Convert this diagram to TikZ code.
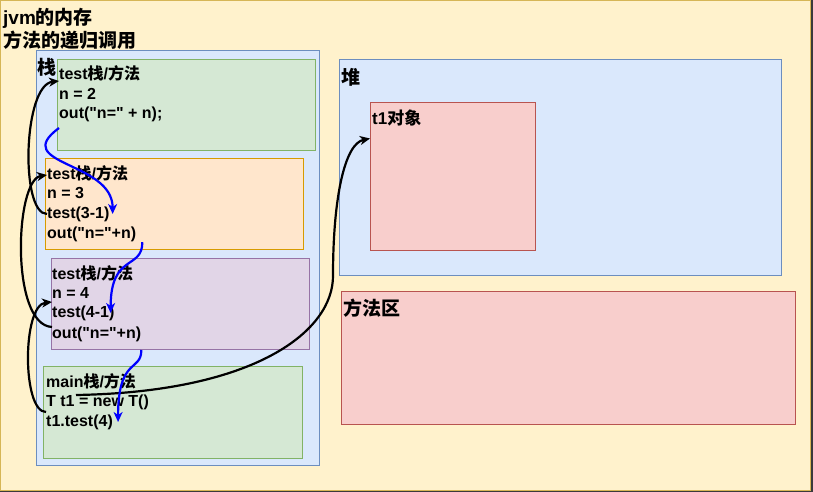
\documentclass[tikz,border=0pt]{standalone}
\usepackage{fontspec}
\setmainfont{Liberation Sans}[Ligatures=TeXOff]
\newfontfamily\cjkfont{Noto Sans CJK SC}
\newcommand{\zh}[1]{{\cjkfont #1}}
\usetikzlibrary{arrows.meta}
\definecolor{canvasgray}{HTML}{3A3A3A}
\definecolor{noteyellow}{HTML}{FFF2CC}
\definecolor{noteborder}{HTML}{D6B656}
\definecolor{areablue}{HTML}{DAE8FC}
\definecolor{areablueline}{HTML}{6C8EBF}
\definecolor{framegreen}{HTML}{D5E8D4}
\definecolor{framegreenline}{HTML}{82B366}
\definecolor{frameorange}{HTML}{FFE6CC}
\definecolor{frameorangeline}{HTML}{D79B00}
\definecolor{framepurple}{HTML}{E1D5E7}
\definecolor{framepurpleline}{HTML}{9673A6}
\definecolor{objred}{HTML}{F8CECC}
\definecolor{objredline}{HTML}{B85450}
\tikzstyle{area} = [draw, line width=1pt, anchor=north west, inner sep=0pt]
\tikzstyle{bigtitle} = [anchor=west, inner sep=0pt, font=\fontsize{19}{22}\selectfont\bfseries]
\tikzstyle{codeline} = [anchor=west, inner sep=0pt, text height=12pt, text depth=4pt, font=\fontsize{16}{20}\selectfont\bfseries]
\tikzstyle{returnarrow} = [line width=2.2pt, black, -{Stealth[length=10pt,width=9pt,inset=3pt]}]
\tikzstyle{callarrow} = [line width=2.2pt, blue, -{Stealth[length=10pt,width=9pt,inset=3pt]}]
\begin{document}
\begin{tikzpicture}[x=1pt,y=-1pt]
    \path[use as bounding box, fill=canvasgray] (0,0) rectangle (813,492);

    % areas
    \node[area, fill=noteyellow, draw=noteborder, minimum width=810pt, minimum height=490pt] (jvm) at (0,0) {};
    \node[area, fill=areablue, draw=areablueline, minimum width=283pt, minimum height=415pt] (stack) at (36,50) {};
    \node[area, fill=areablue, draw=areablueline, minimum width=442pt, minimum height=216pt] (heap) at (339,59) {};
    \node[area, fill=objred, draw=objredline, minimum width=165pt, minimum height=148pt] (obj) at (370,102) {};
    \node[area, fill=objred, draw=objredline, minimum width=454pt, minimum height=133pt] (method) at (341,291) {};

    % stack frames
    \node[area, fill=framegreen, draw=framegreenline, minimum width=258pt, minimum height=91pt] (f1) at (57,59) {};
    \node[area, fill=frameorange, draw=frameorangeline, minimum width=258pt, minimum height=91pt] (f2) at (45,158) {};
    \node[area, fill=framepurple, draw=framepurpleline, minimum width=258pt, minimum height=91pt] (f3) at (51,258) {};
    \node[area, fill=framegreen, draw=framegreenline, minimum width=259pt, minimum height=92pt] (f4) at (43,366) {};

    % labels
    \node[bigtitle] (title1) at (3,18) {jvm\zh{的内存}};
    \node[bigtitle] (title2) at (3,40) {\zh{方法的递归调用}};
    \node[bigtitle] (stacklabel) at (37,67) {\zh{栈}};
    \node[bigtitle] (heaplabel) at (341,77) {\zh{堆}};
    \node[bigtitle, font=\fontsize{17}{20}\selectfont\bfseries] (objlabel) at (372,118) {t1\zh{对象}};
    \node[bigtitle] (methodlabel) at (343,308) {\zh{方法区}};

    \node[codeline] (f1t) at (59,76)  {test\zh{栈}/\zh{方法}};
    \node[codeline] (f1n) at (59,96)  {n = 2};
    \node[codeline] (f1o) at (59,115) {out("n=" + n);};

    \node[codeline] (f2t) at (47,175) {test\zh{栈}/\zh{方法}};
    \node[codeline] (f2n) at (47,194) {n = 3};
    \node[codeline] (f2c) at (47,214) {test(3-1)};
    \node[codeline] (f2o) at (47,234) {out("n="+n)};

    \node[codeline] (f3t) at (52,275) {test\zh{栈}/\zh{方法}};
    \node[codeline] (f3n) at (52,294) {n = 4};
    \node[codeline] (f3c) at (52,313) {test(4-1)};
    \node[codeline] (f3o) at (52,334) {out("n="+n)};

    \node[codeline] (f4t) at (46,383) {main\zh{栈}/\zh{方法}};
    \node[codeline] (f4n) at (46,402) {T t1 = new T()};
    \node[codeline] (f4c) at (46,422) {t1.test(4)};

    % returns
    \draw[returnarrow] (f2c.west) .. controls +(-27,0) and +(-36,4) .. ([yshift=-5pt]f1t.west);
    \draw[returnarrow] ([yshift=7pt]f3o.west) .. controls +(-42,-2) and +(-32,5) .. (f2t.west);
    \draw[returnarrow] ([yshift=-10pt]f4n.west) .. controls +(-24,0) and +(-30,3) .. ([yshift=-8pt]f3n.west);
    \draw[returnarrow] ([shift={(30,-7)}]f4n.west) .. controls +(180,-3) and +(0,55) .. ([xshift=-6pt]heap.south west)
        .. controls +(0,-80) and +(-25,5) .. ([yshift=38pt]obj.west);

    % calls
    \draw[callarrow] ([yshift=-13pt]f1o.west) .. controls +(-50,37) and +(0,-53) .. ([xshift=3pt]f2c.east);
    \draw[callarrow] ([xshift=6pt]f2o.south east) .. controls +(0,28) and +(0,-60) .. ([xshift=-4pt]f3c.east);
    \draw[callarrow] (f3o.east |- f3.south) .. controls +(0,22) and +(0,-65) .. ([xshift=5pt]f4c.east);
\end{tikzpicture}
\end{document}
